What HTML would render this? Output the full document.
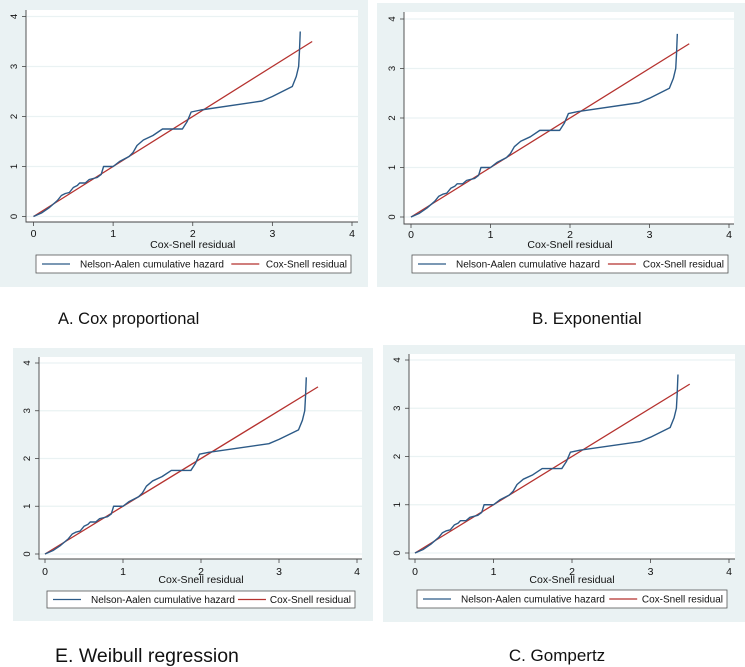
<!DOCTYPE html>
<html><head><meta charset="utf-8">
<style>
html,body{margin:0;padding:0;background:#fff;width:745px;height:667px;overflow:hidden}
svg{display:block}
.cap{font-family:"Liberation Sans",sans-serif;fill:#111}
</style></head>
<body>
<svg id="fig" width="745" height="667" xmlns="http://www.w3.org/2000/svg"></svg>
<script>
const naX=[0,0.1,0.2,0.3,0.35,0.4,0.45,0.5,0.55,0.58,0.65,0.7,0.8,0.85,0.88,1.0,1.08,1.2,1.25,1.3,1.38,1.5,1.62,1.87,1.93,1.98,2.1,2.87,3.0,3.25,3.3,3.33,3.34,3.35];
const naY=[0,0.07,0.18,0.32,0.42,0.46,0.48,0.58,0.62,0.67,0.67,0.74,0.78,0.84,1.0,1.0,1.1,1.2,1.28,1.42,1.53,1.62,1.75,1.75,1.9,2.09,2.13,2.31,2.4,2.6,2.8,3.0,3.3,3.7];
const csX=[0,3.5];
const csY=[0,3.5];
const xTicks=[0,1,2,3,4];
const yTicks=[0,1,2,3,4];
const panels=[
 {id:'a',bg:[0,0,368,287],plot:[26,10,358,222],x0:33.5,x4:352,y0:216.5,y4:16.5,leg:[36,255,351,273],title:245,tick:234,cap:'A.  Cox proportional',capX:58,capY:324,capSize:16.5,capAnchor:'start'},
 {id:'b',bg:[377,3,745,287],plot:[404,12,734,224],x0:411,x4:729,y0:217,y4:19,leg:[412,255,728,273],title:245,tick:235,cap:'B. Exponential',capX:532,capY:324,capSize:17,capAnchor:'start'},
 {id:'e',bg:[13,348,373,621],plot:[39,357,362,559],x0:45,x4:357,y0:554,y4:363,leg:[47,591,355,608],title:580,tick:572,cap:'E. Weibull regression',capX:55,capY:662,capSize:19.5,capAnchor:'start'},
 {id:'c',bg:[383,345,745,622],plot:[409,354,735,559],x0:415,x4:729,y0:553,y4:360,leg:[417,590,727,608],title:580,tick:572,cap:'C. Gompertz',capX:557,capY:661,capSize:17,capAnchor:'middle'}
];
const NS='http://www.w3.org/2000/svg';
const fig=document.getElementById('fig');
function mk(tag,attrs,parent,text){const e=document.createElementNS(NS,tag);for(const k in attrs)e.setAttribute(k,attrs[k]);if(text!==undefined)e.textContent=text;parent.appendChild(e);return e;}
panels.forEach(p=>{
 const g=mk('g',{},fig);
 
 
 const sx=v=>p.x0+(p.x4-p.x0)*v/4;
 const sy=v=>p.y0+(p.y4-p.y0)*v/4;
 const bg=mk('rect',{x:p.bg[0],y:p.bg[1],width:p.bg[2]-p.bg[0],height:p.bg[3]-p.bg[1],fill:'#eaf2f3'},g);
 
 
 const pl=mk('rect',{x:p.plot[0],y:p.plot[1],width:p.plot[2]-p.plot[0],height:p.plot[3]-p.plot[1],fill:'#fff'},g);
 
 
 yTicks.forEach(t=>{
  const gl=mk('line',{x1:p.plot[0],x2:p.plot[2],y1:sy(t),y2:sy(t),stroke:'#eaf2f3','stroke-width':1.2},g);
  
  
  mk('line',{x1:p.plot[0]-4,x2:p.plot[0],y1:sy(t),y2:sy(t),stroke:'#444','stroke-width':0.8},g);
  const tl=mk('text',{x:0,y:0,transform:`translate(${p.plot[0]-9},${sy(t)}) rotate(-90)`,'text-anchor':'middle','font-size':9.5,class:'cap'},g,String(t));
  
  
 });
 xTicks.forEach(t=>{
  mk('line',{x1:sx(t),x2:sx(t),y1:p.plot[3],y2:p.plot[3]+4,stroke:'#444','stroke-width':0.8},g);
  const tl=mk('text',{x:sx(t),y:p.tick+3,'text-anchor':'middle','font-size':10.5,class:'cap'},g,String(t));
  
  
 });
 const ax=mk('path',{d:`M${p.plot[0]},${p.plot[1]}V${p.plot[3]}H${p.plot[2]}`,fill:'none',stroke:'#444','stroke-width':0.9},g);
 
 
 const cs=mk('polyline',{points:csX.map((x,i)=>sx(x)+','+sy(csY[i])).join(' '),fill:'none',stroke:'#b5322f','stroke-width':1.3},g);
 
 
 const na=mk('polyline',{points:naX.map((x,i)=>sx(x)+','+sy(naY[i])).join(' '),fill:'none',stroke:'#2c5a87','stroke-width':1.4,'stroke-linejoin':'round'},g);
 
 
 const xt=mk('text',{x:(p.x0+p.x4)/2,y:p.title+3,'text-anchor':'middle','font-size':10.5,class:'cap'},g,'Cox-Snell residual');
 
 
 const L=p.leg;
 const lb=mk('rect',{x:L[0],y:L[1],width:L[2]-L[0],height:L[3]-L[1],fill:'#fff',stroke:'#555','stroke-width':0.8},g);
 
 
 const my=(L[1]+L[3])/2;
 mk('line',{x1:L[0]+6,x2:L[0]+34,y1:my,y2:my,stroke:'#2c5a87','stroke-width':1.3},g);
 const l1=mk('text',{x:L[0]+44,y:my+3.5,'font-size':10,class:'cap'},g,'Nelson-Aalen cumulative hazard');
 
 
 const w=L[2]-L[0];
 mk('line',{x1:L[0]+w*0.62,x2:L[0]+w*0.62+28,y1:my,y2:my,stroke:'#b5322f','stroke-width':1.3},g);
 const l2=mk('text',{x:L[2]-4,y:my+3.5,'text-anchor':'end','font-size':10,class:'cap'},g,'Cox-Snell residual');
 
 
 const c=mk('text',{x:p.capX,y:p.capY,'text-anchor':p.capAnchor,'font-size':p.capSize,class:'cap'},fig,p.cap);
 
 
});
</script>
</body></html>
